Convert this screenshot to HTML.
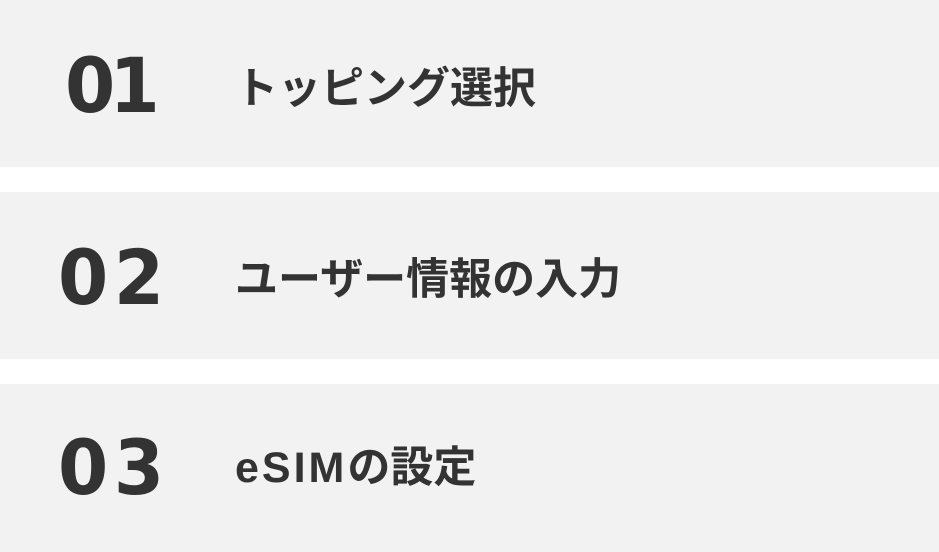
<!DOCTYPE html>
<html><head><meta charset="utf-8"><style>
body{margin:0;width:939px;height:552px;background:#fff;position:relative;overflow:hidden;font-family:"Liberation Sans","Noto Sans CJK JP",sans-serif;}
.band{position:absolute;left:0;width:939px;background:#f2f2f2;}
.num{position:absolute;font-family:"DejaVu Sans","Liberation Sans",sans-serif;font-weight:900;font-size:76px;color:#333;line-height:1;transform-origin:left top;transform:scaleX(0.95);}
.lbl{position:absolute;left:235px;font-size:43px;font-weight:bold;color:#333;line-height:1;font-family:"Liberation Sans","Noto Sans CJK JP",sans-serif;}
</style></head><body>
<div class="band" style="top:0;height:167px"></div>
<div class="band" style="top:192px;height:167px"></div>
<div class="band" style="top:384px;height:168px"></div>
<div class="num" style="left:65px;top:48px;letter-spacing:-6px">01</div>
<div class="num" style="left:58px;top:240px;letter-spacing:6px">02</div>
<div class="num" style="left:58px;top:430px;letter-spacing:6px">03</div>
<div class="lbl" style="top:68px">トッピング選択</div>
<div class="lbl" style="top:259px">ユーザー情報の入力</div>
<div class="lbl" style="top:447px"><span style="letter-spacing:3px">eSIM</span>の設定</div>
</body></html>
